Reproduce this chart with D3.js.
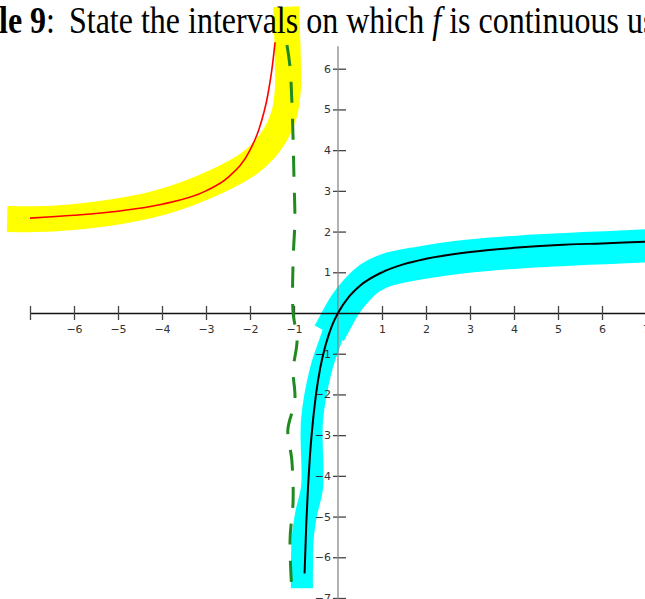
<!DOCTYPE html>
<html>
<head>
<meta charset="utf-8">
<script src="https://cdn.jsdelivr.net/npm/d3@7"></script>
<style>
  body { margin: 0; background: #fff; }
  svg { display: block; }
</style>
</head>
<body>
<div id="chart"></div>
<script>
// Ticks on both axes
var xTicks = [-7, -6, -5, -4, -3, -2, -1, 1, 2, 3, 4, 5, 6, 7];
var xLabels = [-6, -5, -4, -3, -2, -1, 1, 2, 3, 4, 5, 6, 7];
var yTicks = [-7, -6, -5, -4, -3, -2, -1, 1, 2, 3, 4, 5, 6];

// Left branch (red)
var leftX = [-7, -6, -5, -4, -3, -2.5, -2, -1.8, -1.6, -1.5, -1.43];
var leftY = [2.33, 2.4, 2.5, 2.67, 3.0, 3.33, 4.0, 4.5, 5.33, 6.0, 6.65];

// Right branch (black)
var rightX = [-0.76, -0.72, -0.68, -0.64, -0.6, -0.5, -0.4, -0.3, -0.2, -0.1, 0, 0.25, 0.5, 1, 1.5, 2, 3, 4, 5, 6, 7];
var rightY = [-6.4, -5.15, -4.25, -3.55, -3.0, -2.0, -1.33, -0.86, -0.5, -0.22, 0, 0.4, 0.67, 1.0, 1.2, 1.33, 1.5, 1.6, 1.67, 1.71, 1.75];

// Hand drawn highlighter strokes (centre lines)
var yellowX = [-7.52, -6.32, -4.27, -3.14, -2.0, -1.5, -1.23, -1.14, -1.14, -1.18];
var yellowY = [2.31, 2.33, 2.65, 3.05, 3.69, 4.25, 4.86, 5.48, 6.22, 7.52];
var cyanTopX = [7.0, 6.41, 4.14, 3.0, 1.86, 1.11, 0.73, 0.39, 0.16, -0.05, -0.2];
var cyanTopY = [1.65, 1.62, 1.50, 1.40, 1.23, 1.06, 0.86, 0.52, 0.20, -0.2, -0.5];
var cyanLowX = [0.05, -0.1, -0.39, -0.59, -0.59, -0.72, -0.8, -0.82, -0.82];
var cyanLowY = [0.2, -0.45, -1.40, -2.63, -4.28, -4.91, -5.50, -6.31, -6.76];

// Dashed asymptote near x = -1
var asymX = [-1.16, -1.09, -1.05, -1.02, -1.0, -0.98, -1.02, -1.02, -0.93, -1.02, -0.98, -1.14, -1.05, -1.02, -1.09, -1.05];
var asymY = [6.58, 6.04, 5.23, 4.25, 3.27, 2.29, 1.30, 0, -0.66, -1.40, -2.14, -2.87, -3.61, -4.59, -5.58, -6.81];

var width = 645;
var height = 599;

var svg = d3.select("#chart")
            .append("svg")
            .attr("width", width)
            .attr("height", height);

var x = d3.scaleLinear().domain([-7, 7]).range([30, 646]);
var y = d3.scaleLinear().domain([-7, 7]).range([598, 28]);

function pts(xs, ys) {
  return xs.map(function(d, i) { return [d, ys[i]]; });
}

var smooth = d3.line()
               .x(function(d) { return x(d[0]); })
               .y(function(d) { return y(d[1]); })
               .curve(d3.curveCatmullRom);

var mono = d3.line()
             .x(function(d) { return x(d[0]); })
             .y(function(d) { return y(d[1]); })
             .curve(d3.curveMonotoneX);

// Highlighter strokes
svg.append("path")
   .attr("d", smooth(pts(yellowX, yellowY)))
   .attr("fill", "none")
   .attr("stroke", "#ffff00")
   .attr("stroke-width", 26);

svg.append("path")
   .attr("d", smooth(pts(cyanTopX, cyanTopY)))
   .attr("fill", "none")
   .attr("stroke", "#00ffff")
   .attr("stroke-width", 33);

svg.append("path")
   .attr("d", smooth(pts(cyanLowX, cyanLowY)))
   .attr("fill", "none")
   .attr("stroke", "#00ffff")
   .attr("stroke-width", 22);

// x axis
var xAxis = svg.append("g")
   .attr("transform", "translate(0," + y(0) + ")")
   .call(d3.axisBottom(x).tickValues(xTicks).tickSize(0).tickSizeOuter(0).tickPadding(12)
           .tickFormat(function(d) { return xLabels.indexOf(d) >= 0 ? d3.format("d")(d) : ""; }));
xAxis.select(".domain").attr("stroke", "#111").attr("stroke-width", 1.5);
xAxis.selectAll(".tick line").attr("y1", -7).attr("y2", 7).attr("stroke", "#444").attr("stroke-width", 1.3);
xAxis.selectAll(".tick text")
     .attr("fill", "#333")
     .style("font-family", "DejaVu Sans")
     .style("font-size", "11px");

// y axis
var yAxis = svg.append("g")
   .attr("transform", "translate(" + x(0) + ",0)")
   .call(d3.axisLeft(y).tickValues(yTicks).tickSize(0).tickPadding(7).tickFormat(d3.format("d")));
yAxis.select(".domain").remove();
yAxis.append("line")
     .attr("y1", y(6.55)).attr("y2", y(-7.1))
     .attr("stroke", "#888").attr("stroke-width", 1.3);
yAxis.selectAll(".tick line").attr("x1", -5).attr("x2", 8).attr("stroke", "#444").attr("stroke-width", 1.3);
yAxis.selectAll(".tick text")
     .attr("fill", "#333")
     .style("font-family", "DejaVu Sans")
     .style("font-size", "11px");

// curves
svg.append("path")
   .attr("d", mono(pts(leftX, leftY)))
   .attr("fill", "none")
   .attr("stroke", "#ff0000")
   .attr("stroke-width", 1.6);

svg.append("path")
   .attr("d", mono(pts(rightX, rightY)))
   .attr("fill", "none")
   .attr("stroke", "#000")
   .attr("stroke-width", 2);

svg.append("path")
   .attr("d", smooth(pts(asymX, asymY)))
   .attr("fill", "none")
   .attr("stroke", "#1f8a1f")
   .attr("stroke-width", 3)
   .attr("stroke-dasharray", "21,16");

// Title, cropped like the scan
var title = svg.append("text")
   .attr("transform", "translate(-1,33) scale(1,1.19)")
   .style("font-family", "Liberation Serif")
   .style("font-size", "32px")
   .attr("fill", "#000");
title.append("tspan").style("font-weight", "bold").text("le 9");
title.append("tspan").text(":");
title.append("tspan").attr("x", 70).text("State the intervals on which ");
title.append("tspan").style("font-style", "italic").text("f");
title.append("tspan").text(" is continuous using");
</script>
</body>
</html>
